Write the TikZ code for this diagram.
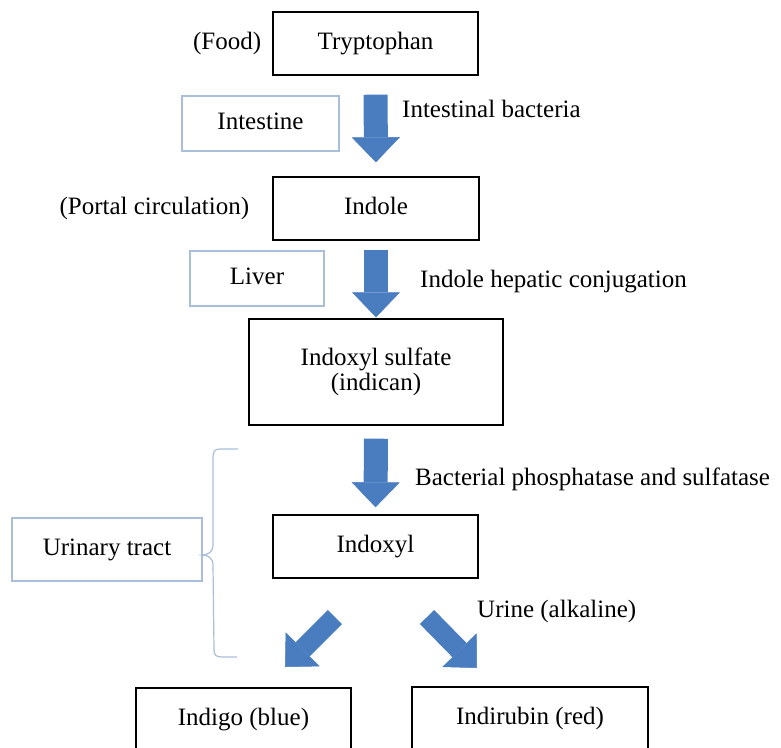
\documentclass[tikz,border=0pt]{standalone}
\usepackage{fontspec}
\setmainfont{Liberation Serif}
\usetikzlibrary{arrows.meta,positioning}
\definecolor{flowblue}{HTML}{4A7DC0}
\definecolor{arealine}{HTML}{A9BFD9}

\begin{document}
\begin{tikzpicture}[x=1pt, y=-1pt,
    every node/.style={font=\fontsize{25}{25}\selectfont},
    chem/.style={draw, line width=1.4pt, minimum height=63pt, align=center, inner sep=0pt},
    oneline/.style={text height=17pt, text depth=5pt},
    organ/.style={draw=arealine, line width=1.2pt, minimum height=55pt, text height=17pt, text depth=5pt, inner sep=0pt},
    note/.style={inner sep=0pt, anchor=base west},
    flow/.style={draw=flowblue, line width=24pt, -{Triangle[width=48pt, length=25pt, line width=0.5pt]}}
]
    \useasboundingbox (0,0) rectangle (781,747);
    \clip (0,0) rectangle (781,747);

    % compounds
    \node[chem, oneline, minimum width=205pt] (tryp) at (375.5,43.5) {Tryptophan};
    \node[chem, oneline, minimum width=206pt] (indole) at (376,208.5) {Indole};
    \node[chem, minimum width=254pt, minimum height=106pt] (indsulf) at (376,372) {Indoxyl sulfate\\(indican)};
    \node[chem, oneline, minimum width=205pt] (indoxyl) at (375.5,546.5) {Indoxyl};
    \node[chem, oneline, minimum width=215pt] (indigo) at (243.5,719.5) {Indigo (blue)};
    \node[chem, oneline, minimum width=236pt] (indirub) at (530,718.5) {Indirubin (red)};

    % sites
    \node[left=11pt of tryp, inner sep=0pt, oneline] (food) {(Food)};
    \node[left=23pt of indole, inner sep=0pt, oneline] (portal) {(Portal circulation)};
    \node[organ, minimum width=157pt] (intest) at (260.5,123.5) {Intestine};
    \node[organ, minimum width=134pt] (liver) at (257,278.5) {Liver};
    \node[organ, minimum width=190pt, minimum height=63pt] (urin) at (107,549.5) {Urinary tract};

    % steps
    \node[note] (bact) at (402,117) {Intestinal bacteria};
    \node[note] (conj) at (420,287) {Indole hepatic conjugation};
    \node[note] (phos) at (415,485) {Bacterial phosphatase and sulfatase};
    \node[note] (alk) at (477,617) {Urine (alkaline)};

    \draw[flow, shorten <=19pt, shorten >=14pt] (tryp.south) -- (indole.north);
    \draw[flow, shorten <=9pt, shorten >=1pt] (indole.south) -- (indsulf.north);
    \draw[flow, shorten <=13pt, shorten >=7pt] (indsulf.south) -- (indoxyl.north);

    \coordinate (ltail) at (335,617);
    \coordinate (ltip) at (285,667);
    \coordinate (rtail) at (427,617);
    \coordinate (rtip) at (477,668);
    \draw[flow, line width=20pt] (ltail) -- (ltip);
    \draw[flow, line width=20pt] (rtail) -- (rtip);

    % brace round the urinary steps
    \draw[arealine, line width=1.2pt] (238,449) -- (220,449)
        .. controls (214,449) and (213,452) .. (213,458) -- (213,545)
        .. controls (213,552) and (208,555) .. (202,555)
        .. controls (208,555) and (213,558) .. (213,565) -- (214,650)
        .. controls (214,655) and (216,657) .. (222,657) -- (237,657);
\end{tikzpicture}
\end{document}
